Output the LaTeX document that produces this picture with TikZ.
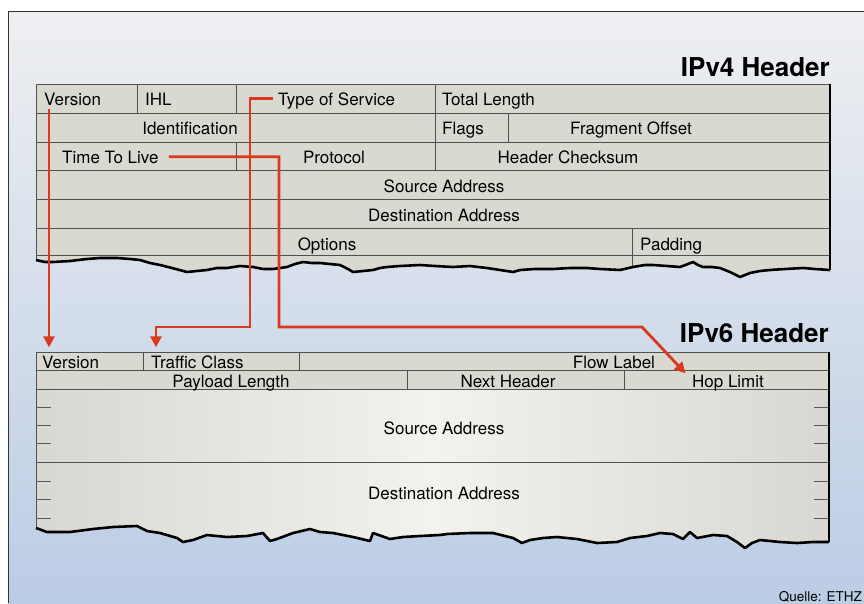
\documentclass[tikz,border=0pt]{standalone}
\usepackage{fontspec}
\setmainfont{TeX Gyre Heros}
\usetikzlibrary{arrows.meta}

\definecolor{bgtop}{HTML}{EEEFF1}
\definecolor{bgbot}{HTML}{BBCCE5}
\definecolor{paper}{HTML}{D9D8D1}
\definecolor{paperside}{HTML}{D8D7D2}
\definecolor{paperlight}{HTML}{F4F2EE}
\definecolor{cellgray}{HTML}{505050}
\definecolor{linkred}{HTML}{D8391F}

% torn lower edges of the two headers
\def\tornfour{(36,260) -- (45,262) -- (53,262) -- (70,261) -- (87,259) -- (100,258) -- (117,258)
  -- (130,259) -- (140,260) -- (150,263) -- (160,265) -- (172,268) -- (187,272) -- (197,271)
  -- (207,270) -- (217,268) -- (227,268) -- (240,266) -- (253,267) -- (263,269) -- (273,269)
  -- (280,268) -- (287,267) -- (295,264) -- (303,262) -- (312,263) -- (320,263) -- (330,264)
  -- (340,265) -- (348,269) -- (353,272) -- (363,271) -- (373,270) -- (380,268) -- (387,267)
  -- (400,266) -- (420,265) -- (435,266) -- (453,267) -- (470,266) -- (487,268) -- (500,270)
  -- (513,272) -- (520,270) -- (535,269) -- (553,269) -- (570,268) -- (587,268) -- (600,269)
  -- (620,270) -- (633,267) -- (645,265) -- (653,265) -- (667,266) -- (680,267) -- (688,264)
  -- (693,262) -- (698,265) -- (703,267) -- (712,267) -- (720,268) -- (730,272) -- (740,277)
  -- (745,275) -- (750,273) -- (760,271) -- (770,270) -- (785,269) -- (803,268) -- (815,269)
  -- (830,270)}
\def\tornsix{(36,528) -- (47,532) -- (70,532) -- (93,529) -- (113,527) -- (137,526) -- (147,531)
  -- (160,533) -- (177,538) -- (183,542) -- (193,540) -- (207,535) -- (227,537) -- (247,536)
  -- (263,533) -- (270,541) -- (277,539) -- (293,533) -- (310,529) -- (320,532) -- (333,533)
  -- (353,537) -- (370,541) -- (373,533) -- (390,539) -- (403,537) -- (420,536) -- (440,535)
  -- (447,534) -- (470,533) -- (493,533) -- (513,538) -- (522,543) -- (530,540) -- (543,538)
  -- (557,537) -- (577,539) -- (597,543) -- (617,542) -- (630,538) -- (647,536) -- (660,533)
  -- (673,534) -- (683,539) -- (690,532) -- (697,538) -- (713,535) -- (727,536) -- (737,542)
  -- (745,548) -- (752,543) -- (760,540) -- (780,542) -- (797,543) -- (813,542) -- (829,542)}

\tikzset{
  field/.style={font=\fontsize{17}{19}\selectfont, inner sep=0pt, text height=12pt, text depth=3.5pt},
  headtitle/.style={font=\fontsize{26}{28}\selectfont\bfseries, inner sep=0pt, anchor=base east},
  cellline/.style={draw=cellgray, line width=0.9pt},
  torn/.style={draw=black, line width=2.6pt, line join=round},
  tickmark/.style={draw=gray!70!black, line width=1pt},
  link/.style={draw=linkred, line width=2.8pt, -{Triangle[length=11pt,width=11pt]}},
}

\begin{document}
\begin{tikzpicture}[x=1pt,y=-1pt]
\useasboundingbox (0,0) rectangle (864,603);
% background
\fill[white] (0,0) rectangle (864,603);
\shade[top color=bgtop, bottom color=bgbot] (8,11) rectangle (864,603);
\draw[gray!40!black, line width=1pt] (8,603) -- (8,11) -- (864,11);

% IPv4 header
\fill[paper] (830,84) -- (36,84) -- \tornfour -- cycle;
\foreach \y in {113,142,170,199,228,255}
  \draw[cellline] (36,\y) -- (830,\y);
\draw[cellline] (36,260) -- (36,84) -- (830,84);
\draw[cellline] (137,84) -- (137,113) (236,84) -- (236,113) (435,84) -- (435,170)
  (508,113) -- (508,142) (236,142) -- (236,170) (632,228) -- (632,267);
\draw[black, line width=1.8pt] (830,84) -- (830,270);
\draw[torn] \tornfour;

\node[field, anchor=base west] (v4ver) at (44,105) {Version};
\node[field, anchor=base west] (v4ihl) at (145,105) {IHL};
\node[field, anchor=base west] (v4tos) at (278,105) {Type of Service};
\node[field, anchor=base west] (v4len) at (442,105) {Total Length};
\node[field, anchor=base] (v4id) at (190,134) {Identification};
\node[field, anchor=base west] (v4flags) at (442,134) {Flags};
\node[field, anchor=base] (v4frag) at (631,134) {Fragment Offset};
\node[field, anchor=base west] (v4ttl) at (62,163) {Time To Live};
\node[field, anchor=base] (v4proto) at (334,163) {Protocol};
\node[field, anchor=base] (v4csum) at (568,163) {Header Checksum};
\node[field, anchor=base] (v4src) at (444,192) {Source Address};
\node[field, anchor=base] (v4dst) at (444,221) {Destination Address};
\node[field, anchor=base] (v4opt) at (327,250) {Options};
\node[field, anchor=base west] (v4pad) at (640,250) {Padding};
\node[headtitle] (v4title) at (830,76) {IPv4 Header};

% IPv6 header
\fill[paper] (36,352) rectangle (829,389);
\shade[left color=paperside, right color=paperside, middle color=paperlight]
  (829,389) -- (36,389) -- \tornsix -- cycle;
\foreach \y in {370,389,462}
  \draw[cellline] (36,\y) -- (829,\y);
\draw[cellline] (36,528) -- (36,352) -- (829,352);
\draw[cellline] (143,352) -- (143,370) (299,352) -- (299,370)
  (407,370) -- (407,389) (624,370) -- (624,389);
\foreach \y in {407,425,443,481,499,518}
  \draw[tickmark] (36,\y) -- (51,\y) (814,\y) -- (829,\y);
\draw[black, line width=1.8pt] (829,352) -- (829,542);
\draw[torn] \tornsix;

\node[field, anchor=base west] (v6ver) at (42,368) {Version};
\node[field, anchor=base west] (v6tc) at (151,368) {Traffic Class};
\node[field, anchor=base] (v6flow) at (614,368) {Flow Label};
\node[field, anchor=base] (v6plen) at (231,387) {Payload Length};
\node[field, anchor=base] (v6next) at (508,387) {Next Header};
\node[field, anchor=base] (v6hop) at (728,387) {Hop Limit};
\node[field, anchor=base] (v6src) at (444,434) {Source Address};
\node[field, anchor=base] (v6dst) at (444,499) {Destination Address};
\node[headtitle] (v6title) at (829,342) {IPv6 Header};

\node[font=\fontsize{13.5}{15}\selectfont, inner sep=0pt, anchor=base east] (source) at (862,601) {Quelle: ETHZ};

% mapping arrows
\coordinate (tosbend) at (250,327);
\coordinate (ttlbend) at (279,327);
\coordinate (hopbend) at (642,327);
\draw[link, shorten >=8.5pt] ([xshift=5pt]v4ver.south west) -- ([xshift=7pt]v6ver.north west);
\draw[link, shorten >=8.5pt] ([xshift=-5pt,yshift=2pt]v4tos.west) -| (tosbend) -| ([xshift=5pt]v6tc.north west);
\draw[link, shorten >=2pt] ([xshift=10pt,yshift=2pt]v4ttl.east) -| (ttlbend) -- (hopbend) -- ([xshift=-5pt]v6hop.north west);
\end{tikzpicture}
\end{document}
